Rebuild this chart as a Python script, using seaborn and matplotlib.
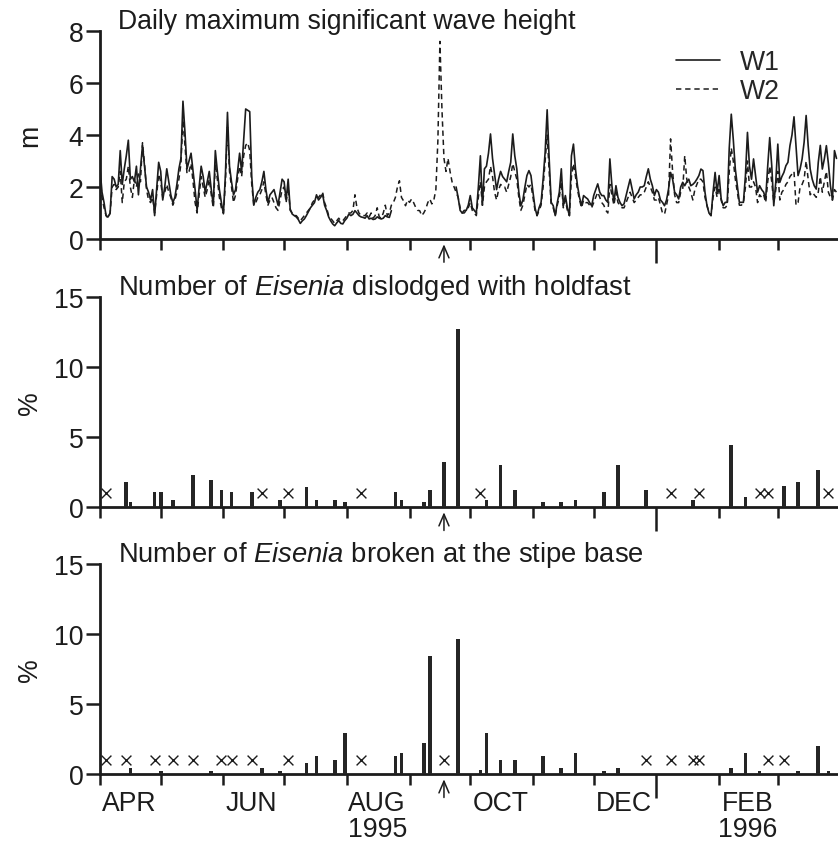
import numpy as np
import pandas as pd
import matplotlib
matplotlib.use("Agg")
import matplotlib.pyplot as plt
import matplotlib.transforms as mtransforms
from matplotlib.lines import Line2D
import seaborn as sns

# ---------------- data (days since 1 April 1995) ----------------
W1 = [2.7, 1.8, 1.4, 0.9, 0.85, 1.0, 2.4, 2.3, 2.0, 2.1, 3.4, 2.1, 2.7, 3.2, 3.8, 2.3, 2.4, 2.2, 2.8, 1.7,
      2.7, 3.6, 2.8, 2.0, 1.8, 1.5, 1.9, 0.9, 1.9, 2.95, 2.6, 1.5, 2.0, 2.7, 2.2, 1.7, 1.4, 1.6, 2.1, 2.7,
      3.1, 5.3, 4.1, 2.7, 3.0, 3.3, 2.6, 1.9, 1.1, 2.0, 2.8, 2.4, 1.8, 2.2, 2.6, 1.9, 1.3, 3.4, 2.6, 1.9,
      1.4, 0.97, 2.5, 4.87, 2.8, 2.2, 1.7, 1.9, 2.6, 3.3, 2.6, 3.8, 5.0, 4.95, 4.9, 2.4, 1.3, 1.6, 1.8, 1.9,
      2.2, 2.6, 1.9, 1.4, 1.7, 1.8, 1.9, 1.6, 1.3, 1.8, 2.3,
      2.2, 1.5, 2.3, 1.15, 0.96, 0.9, 0.85, 0.75, 0.6, 0.7, 0.77, 0.9, 1.05, 1.2, 1.3, 1.4, 1.7, 1.5, 1.6,
      1.73, 1.3, 1.1, 0.85, 0.7, 0.58, 0.51, 0.62, 0.71, 0.6, 0.58, 0.71, 0.8, 0.96, 0.9, 0.95, 1.09, 1.0,
      0.9, 0.85, 0.83, 0.8, 0.9, 0.77, 0.8, 0.75, 0.77, 0.85, 0.8, 0.77, 0.8, 0.9, 0.85, 0.83, 1.09,
      np.nan, np.nan, np.nan, np.nan, np.nan, np.nan, np.nan, np.nan, np.nan, np.nan, np.nan, np.nan,
      np.nan, np.nan, np.nan, np.nan, np.nan, np.nan, np.nan, np.nan, np.nan, np.nan, np.nan, np.nan,
      np.nan, np.nan, np.nan, np.nan, np.nan, np.nan, np.nan,
      2.0, 1.6, 1.1, 1.0, 1.1,
      1.1, 1.3, 1.67, 1.2, 1.1, 1.0, 2.0, 3.2, 1.3, 2.7, 2.8, 3.3, 4.04, 3.1, 2.5, 1.9, 2.3, 2.6, 2.4, 2.3,
      2.2, 2.6, 2.95, 4.04, 3.2, 2.7, 1.8, 1.28, 1.5, 2.0, 2.44, 2.63, 2.44, 1.8, 1.2, 0.9, 1.2, 1.41, 2.3,
      3.33, 4.97, 3.08, 1.41, 1.28, 0.9, 1.4, 1.8, 2.7, 1.28, 1.67, 1.2, 0.9, 3.2, 3.65, 2.69, 2.05, 1.6,
      1.28, 1.67, 1.6, 1.54, 1.4, 1.28, 1.67, 1.9, 2.12, 1.8, 1.67, 1.67, 1.5, 1.41, 3.08, 2.05, 1.41,
      2.05, 1.6, 1.41, 1.28, 1.35, 1.67, 2.0, 2.3, 1.92, 1.54, 1.7, 1.8, 2.0, 2.0, 2.05, 2.4, 2.7, 2.3, 2.05,
      1.67, 1.9, 1.8, 1.5, 1.41, 1.28, 1.5, 1.92, 2.56, 2.3, 1.8, 1.7, 1.54, 2.0, 2.18, 2.05, 2.2, 2.3,
      2.05, 2.1, 2.18, 2.3, 2.44, 2.69, 2.63, 1.8, 1.28, 1.0, 0.9, 1.8, 2.56, 1.8, 2.44, 1.54, 1.28, 1.41,
      1.41, 3.5, 4.8, 3.82, 2.69, 2.05, 1.41, 1.41, 1.41, 2.44, 4.1, 2.8, 2.3, 3.08, 2.44, 1.8, 2.05, 1.9,
      1.8, 1.54, 2.8, 3.9, 2.82, 1.28, 2.2, 3.65, 2.18, 2.4, 2.56, 2.82, 2.95, 3.59, 4.0, 4.7, 3.59, 2.44,
      2.69, 3.08, 3.72, 4.75, 3.59, 2.69, 2.3, 2.05, 1.92, 2.95, 3.6, 2.69, 3.08, 3.59, 2.9, 2.05, 1.5,
      3.4, 3.1]

W2 = [2.4, 1.6, 1.2, 0.9, 0.8, 1.0, 2.0, 2.1, 1.9, 2.0, 2.6, 1.4, 2.2, 2.3, 2.8, 2.0, 1.6, 2.3, 2.0, 2.5,
      2.2, 3.7, 2.9, 1.9, 1.5, 1.4, 1.6, 1.0, 1.7, 2.5, 2.2, 1.6, 1.8, 2.1, 1.8, 1.6, 1.3, 1.5, 1.8, 2.3,
      2.9, 4.6, 3.6, 2.5, 2.6, 2.9, 2.2, 1.4, 1.0, 1.7, 2.4, 2.0, 1.6, 1.9, 2.3, 1.7, 1.2, 2.9, 2.3, 1.6,
      1.2, 1.0, 2.2, 4.3, 2.6, 2.0, 1.4, 1.7, 2.3, 2.8, 2.4, 3.2, 3.6, 3.7, 3.4, 2.1, 1.3, 1.4, 1.6, 1.7,
      1.9, 2.2, 1.7, 1.3, 1.5, 1.6, 1.4, 1.2, 1.1, 1.5, 1.9,
      2.0, 1.4, 2.0, 1.1, 1.0, 0.9, 0.9, 0.8, 0.7, 0.8, 0.9, 1.0, 1.1, 1.2, 1.4, 1.5, 1.6, 1.6, 1.7,
      1.8, 1.4, 1.2, 0.9, 0.8, 0.7, 0.6, 0.7, 0.8, 0.7, 0.7, 0.8, 0.9, 1.0, 1.0, 1.1, 1.7, 1.2,
      1.0, 0.9, 0.9, 0.9, 1.0, 0.85, 1.0, 0.8, 0.9, 1.2, 0.85, 0.8, 1.0, 1.3, 0.9, 1.0, 1.3,
      1.4, 1.6, 2.0, 2.24, 1.6, 1.47, 1.28, 1.5, 1.41, 1.54, 1.4, 1.22, 1.1, 1.09, 0.9, 1.0, 1.15, 1.4,
      1.54, 1.35, 1.5, 1.9, 3.8, 7.6, 5.0, 3.1, 2.6, 3.1, 2.6, 2.2, 2.0,
      1.8, 1.6, 1.2, 1.0, 1.0,
      1.1, 1.2, 1.4, 1.1, 1.0, 0.9, 1.6, 2.2, 1.3, 2.0, 2.2, 2.3, 2.8, 2.4, 1.8, 1.5, 1.9, 2.1, 2.0, 2.0,
      1.8, 2.1, 2.4, 2.9, 2.6, 2.3, 1.6, 1.1, 1.3, 1.7, 2.1, 2.0, 2.1, 1.6, 1.1, 0.9, 1.1, 1.3, 2.0,
      3.0, 4.0, 2.6, 1.3, 1.2, 0.9, 1.3, 1.6, 2.2, 1.2, 1.5, 1.1, 0.9, 2.4, 2.9, 2.4, 1.9, 1.5,
      1.2, 1.5, 1.4, 1.4, 1.3, 1.2, 1.4, 1.6, 1.8, 1.6, 1.4, 1.3, 1.1, 1.0, 2.1, 1.7, 1.3,
      1.8, 1.4, 1.3, 1.2, 1.2, 1.4, 1.6, 1.8, 1.6, 1.4, 1.5, 1.6, 1.7, 1.7, 1.8, 2.0, 2.2, 2.0, 1.8,
      1.5, 1.5, 1.6, 1.3, 1.0, 0.95, 1.3, 1.7, 3.85, 2.6, 1.7, 1.4, 1.4, 1.8, 1.9, 3.2, 2.3, 2.0,
      1.8, 1.5, 1.9, 2.1, 2.3, 2.3, 2.2, 1.6, 1.3, 1.0, 0.9, 1.6, 2.0, 1.6, 2.0, 1.5, 1.2, 1.2,
      1.3, 2.6, 3.5, 3.0, 2.3, 1.8, 1.3, 1.3, 1.4, 2.0, 3.0, 2.0, 2.0, 2.2, 2.0, 1.4, 1.7, 1.6,
      1.7, 1.4, 2.2, 2.8, 2.2, 1.4, 1.9, 2.6, 1.5, 1.8, 1.9, 2.1, 2.2, 2.4, 2.5, 2.6, 1.3, 1.4,
      2.0, 2.1, 2.3, 3.0, 2.3, 1.7, 1.8, 1.7, 1.6, 1.8, 2.4, 1.8, 2.2, 2.6, 1.8, 1.6, 1.5,
      1.9, 1.8]

sample_days = [3, 13, 15, 27, 30, 36, 46, 55, 60, 65, 75, 80, 89, 93, 102, 107, 116, 121, 129,
               146, 149, 160, 163, 170, 177, 188, 191, 198, 205, 219, 228, 235, 249, 256, 270,
               282, 293, 296, 312, 319, 326, 330, 338, 345, 355, 360]
holdfast = [0, 1.76, 0.33, 1.05, 1.05, 0.52, 2.26, 1.95, 1.24, 1.05, 1.05, 0, 0.52, 0, 1.43, 0.52,
            0.52, 0.33, 0, 1.05, 0.52, 0.33, 1.24, 3.19, 12.7, 0, 0.52, 2.98, 1.24, 0.33, 0.33,
            0.52, 1.05, 2.98, 1.24, 0, 0.52, 0, 4.4, 0.71, 0, 0, 1.48, 1.76, 2.67, 0]
stipe = [0, 0, 0.41, 0, 0.24, 0, 0, 0.24, 0, 0, 0, 0.41, 0.24, 0, 0.77, 1.30, 0.97, 2.95, 0,
         1.30, 1.5, 2.22, 8.45, 0, 9.66, 0.29, 2.95, 0.97, 0.97, 1.30, 0.41, 1.5, 0.24, 0.41, 0,
         0, 0, 0, 0.41, 1.5, 0.24, 0, 0, 0.24, 1.98, 0.24]

month_starts = [0, 30, 61, 91, 122, 153, 183, 214, 244, 306, 335]
year_start = 275
month_label_days = [14.5, 75, 137, 198, 259, 320]
month_labels = ["APR", "JUN", "AUG\n1995", "OCT", "DEC", "FEB\n1996"]
storm_day = 170

titles = ["Daily maximum significant wave height",
          r"Number of $\mathit{Eisenia}$ dislodged with holdfast",
          r"Number of $\mathit{Eisenia}$ broken at the stipe base"]

# ---------------- style ----------------
sns.set_theme(style="ticks")
plt.rcParams["font.family"] = ["Liberation Sans", "DejaVu Sans"]
plt.rcParams["mathtext.fontset"] = "custom"
plt.rcParams["mathtext.rm"] = "Liberation Sans"
plt.rcParams["mathtext.it"] = "Liberation Sans:italic"
INK = "#1c1c1c"
FS_TICK = 19.2
FS_TITLE = 19.5

FW, FH = 838, 845
fig = plt.figure(figsize=(FW / 100, FH / 100), dpi=100)


def ax_at(l, r, t, b):
    return fig.add_axes([l / FW, 1 - b / FH, (r - l) / FW, (b - t) / FH])


ax1 = ax_at(100, 837.5, 32, 240)
ax2 = ax_at(100, 837.5, 298, 508)
ax3 = ax_at(100, 837.5, 565, 775)
axes = [ax1, ax2, ax3]

days = np.arange(len(W1))
df = pd.DataFrame({"day": days, "W1": W1, "W2": W2})

# W2 dashed
sns.lineplot(data=df, x="day", y="W2", ax=ax1, color=INK, lw=1.1,
             linestyle=(0, (3.5, 2.5)), estimator=None)
# W1 solid, contiguous segments only
valid = df["W1"].notna()
seg_id = (valid != valid.shift()).cumsum()
for _, seg in df[valid].groupby(seg_id[valid]):
    sns.lineplot(data=seg, x="day", y="W1", ax=ax1, color=INK, lw=1.2, estimator=None)

handles = [Line2D([], [], color=INK, lw=1.2),
           Line2D([], [], color=INK, lw=1.1, linestyle=(0, (3.5, 2.5)))]
ax1.legend(handles, ["W1", "W2"], loc="upper left",
           bbox_to_anchor=(676 / FW, 1 - 50 / FH), bbox_transform=fig.transFigure,
           frameon=False, fontsize=FS_TICK, handlelength=1.65, handletextpad=0.75,
           labelspacing=0.12, borderpad=0, borderaxespad=0)

# bars
for ax, vals in [(ax2, holdfast), (ax3, stipe)]:
    sd = np.array(sample_days)
    v = np.array(vals, dtype=float)
    pos = v > 0
    ax.bar(sd[pos], v[pos], width=1.8, color="#252525", edgecolor="none", zorder=3)
    sns.scatterplot(x=sd[~pos], y=np.full((~pos).sum(), 1.0), ax=ax, marker="x",
                    s=50, color=INK, linewidth=1.0, zorder=3)

for i, ax in enumerate(axes):
    ax.set_xlim(0, 364.5)
    ax.set_xlabel("")
    ax.set_ylabel("")
    for s in ["top", "right"]:
        ax.spines[s].set_visible(False)
    for s in ["left", "bottom"]:
        ax.spines[s].set_linewidth(2.0)
        ax.spines[s].set_color(INK)
    ax.set_xticks(month_starts)
    ax.set_xticks([year_start], minor=True)
    ax.tick_params(axis="x", which="major", length=8, width=1.8, color=INK, labelbottom=False)
    ax.tick_params(axis="x", which="minor", length=17, width=1.8, color=INK, labelbottom=False)
    ax.tick_params(axis="y", which="major", length=10, width=1.8, color=INK,
                   labelsize=FS_TICK, labelcolor=INK, pad=2)
    ax.patch.set_alpha(0)
    # storm arrow
    ax.annotate("", xy=(storm_day, -0.012), xycoords=("data", "axes fraction"),
                xytext=(storm_day, -0.125), textcoords=("data", "axes fraction"),
                arrowprops=dict(arrowstyle="->,head_length=0.7,head_width=0.3",
                                lw=1.1, color=INK), annotation_clip=False)

ax1.set_ylim(0, 8)
ax1.set_yticks([0, 2, 4, 6, 8])
for ax in (ax2, ax3):
    ax.set_ylim(0, 15)
    ax.set_yticks([0, 5, 10, 15])

# month labels
trans = mtransforms.blended_transform_factory(ax3.transData, ax3.transAxes)
for d, lab in zip(month_label_days, month_labels):
    ax3.text(d, -0.075, lab, transform=trans, ha="center", va="top",
             fontsize=FS_TICK, color=INK, linespacing=1.0)

# titles and y-labels
for t, yb, fs in zip(titles, [29, 295, 562], [19.2, 19.8, 19.7]):
    fig.text(118 / FW, 1 - yb / FH, t, fontsize=fs, color=INK,
             ha="left", va="baseline")
for lab, yc in zip(["m", "%", "%"], [136, 403, 670]):
    fig.text(30 / FW, 1 - yc / FH, lab, fontsize=FS_TICK, color=INK,
             rotation=90, ha="center", va="center")

fig.savefig("out.png", dpi=100)
